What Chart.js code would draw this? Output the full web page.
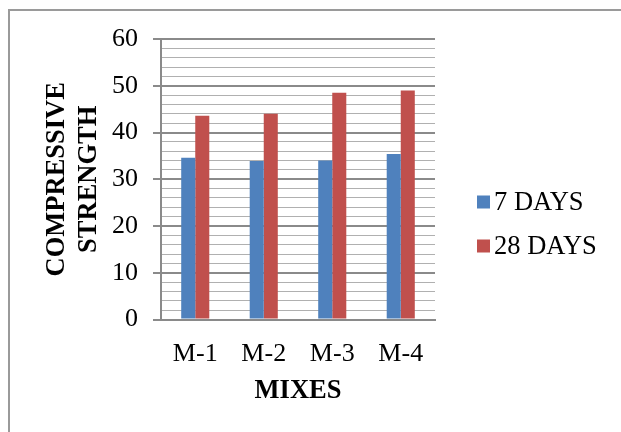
<!DOCTYPE html>
<html>
<head>
<meta charset="utf-8">
<script src="https://cdn.jsdelivr.net/npm/chart.js@4"></script>
<style>
  html, body { margin: 0; padding: 0; background: #fff; }
  #wrap { width: 621px; height: 432px; position: relative; }
</style>
</head>
<body>
<div id="wrap"><canvas id="c" width="621" height="432"></canvas></div>
<script>
const mixes = ['M-1', 'M-2', 'M-3', 'M-4'];
const days7 = [34.6, 33.9, 34.0, 35.4];
const days28 = [43.6, 44.0, 48.5, 49.0];
const seriesNames = ['7 DAYS', '28 DAYS'];
const yMax = 60;
const yMajorStep = 10;
const yMinorStep = 2;

const SERIF = '"Liberation Serif", "Times New Roman", serif';

// Frame lines along the top and left edges of the chart box
const framePlugin = {
  id: 'frame',
  beforeDraw(chart) {
    const ctx = chart.ctx;
    ctx.save();
    ctx.fillStyle = '#fff';
    ctx.fillRect(0, 0, chart.width, chart.height);
    ctx.strokeStyle = '#9a9a9a';
    ctx.lineWidth = 2;
    ctx.beginPath();
    ctx.moveTo(9, chart.height);
    ctx.lineTo(9, 10);
    ctx.lineTo(chart.width, 10);
    ctx.stroke();
    ctx.restore();
  }
};

// Legend drawn to the right of the plot from the dataset labels and colours
const sideLegend = {
  id: 'sideLegend',
  afterDraw(chart) {
    const ctx = chart.ctx;
    const x0 = 477, y0 = 202, rowGap = 44, box = 13;
    ctx.save();
    ctx.font = '26.5px ' + SERIF;
    ctx.textBaseline = 'middle';
    ctx.textAlign = 'left';
    chart.data.datasets.forEach((ds, i) => {
      const y = y0 + i * rowGap;
      ctx.fillStyle = ds.backgroundColor;
      ctx.fillRect(x0, y - box / 2, box, box);
      ctx.fillStyle = '#000';
      ctx.fillText(ds.label, x0 + box + 4, y + 1);
    });
    ctx.restore();
  }
};

new Chart(document.getElementById('c'), {
  type: 'bar',
  data: {
    labels: mixes,
    datasets: [
      { label: seriesNames[0], data: days7, backgroundColor: '#4F81BD' },
      { label: seriesNames[1], data: days28, backgroundColor: '#C0504D' }
    ]
  },
  options: {
    responsive: false,
    animation: false,
    layout: { padding: { left: 0, top: 39, right: 186, bottom: 0 } },
    datasets: { bar: { barPercentage: 1, categoryPercentage: 0.41 } },
    plugins: { legend: { display: false }, tooltip: { enabled: false } },
    scales: {
      x: {
        grid: { display: false, drawTicks: false },
        border: { display: true, color: '#8a8a8a', width: 2 },
        ticks: { color: '#000', font: { family: SERIF, size: 26 }, padding: 19 },
        title: {
          display: true, text: 'MIXES', color: '#000',
          font: { family: SERIF, size: 26.5, weight: 'bold' },
          padding: { top: 0, bottom: 25 }
        },
        afterFit(scale) { scale.height = 112.5; }
      },
      y: {
        min: 0, max: yMax,
        grid: {
          color: (c) => (c.tick && c.tick.value % yMajorStep === 0) ? '#8a8a8a' : '#b0b0b0',
          lineWidth: (c) => (c.tick && c.tick.value % yMajorStep === 0) ? 2 : 1,
          tickColor: (c) => (c.tick && c.tick.value % yMajorStep === 0) ? '#8a8a8a' : 'rgba(0,0,0,0)',
          tickLength: 8,
          drawTicks: true
        },
        border: { display: true, color: '#8a8a8a', width: 2 },
        ticks: {
          stepSize: yMinorStep,
          autoSkip: false,
          color: '#000',
          padding: 15,
          font: { family: SERIF, size: 26 },
          callback: (v) => (v % yMajorStep === 0) ? String(v) : ''
        },
        title: {
          display: true, text: ['COMPRESSIVE', 'STRENGTH'], color: '#000',
          font: { family: SERIF, size: 26.5, weight: 'bold', lineHeight: 1.2 },
          padding: { top: 41, bottom: 0 }
        },
        afterFit(scale) { scale.width = 161; }
      }
    }
  },
  plugins: [framePlugin, sideLegend]
});
</script>
</body>
</html>
